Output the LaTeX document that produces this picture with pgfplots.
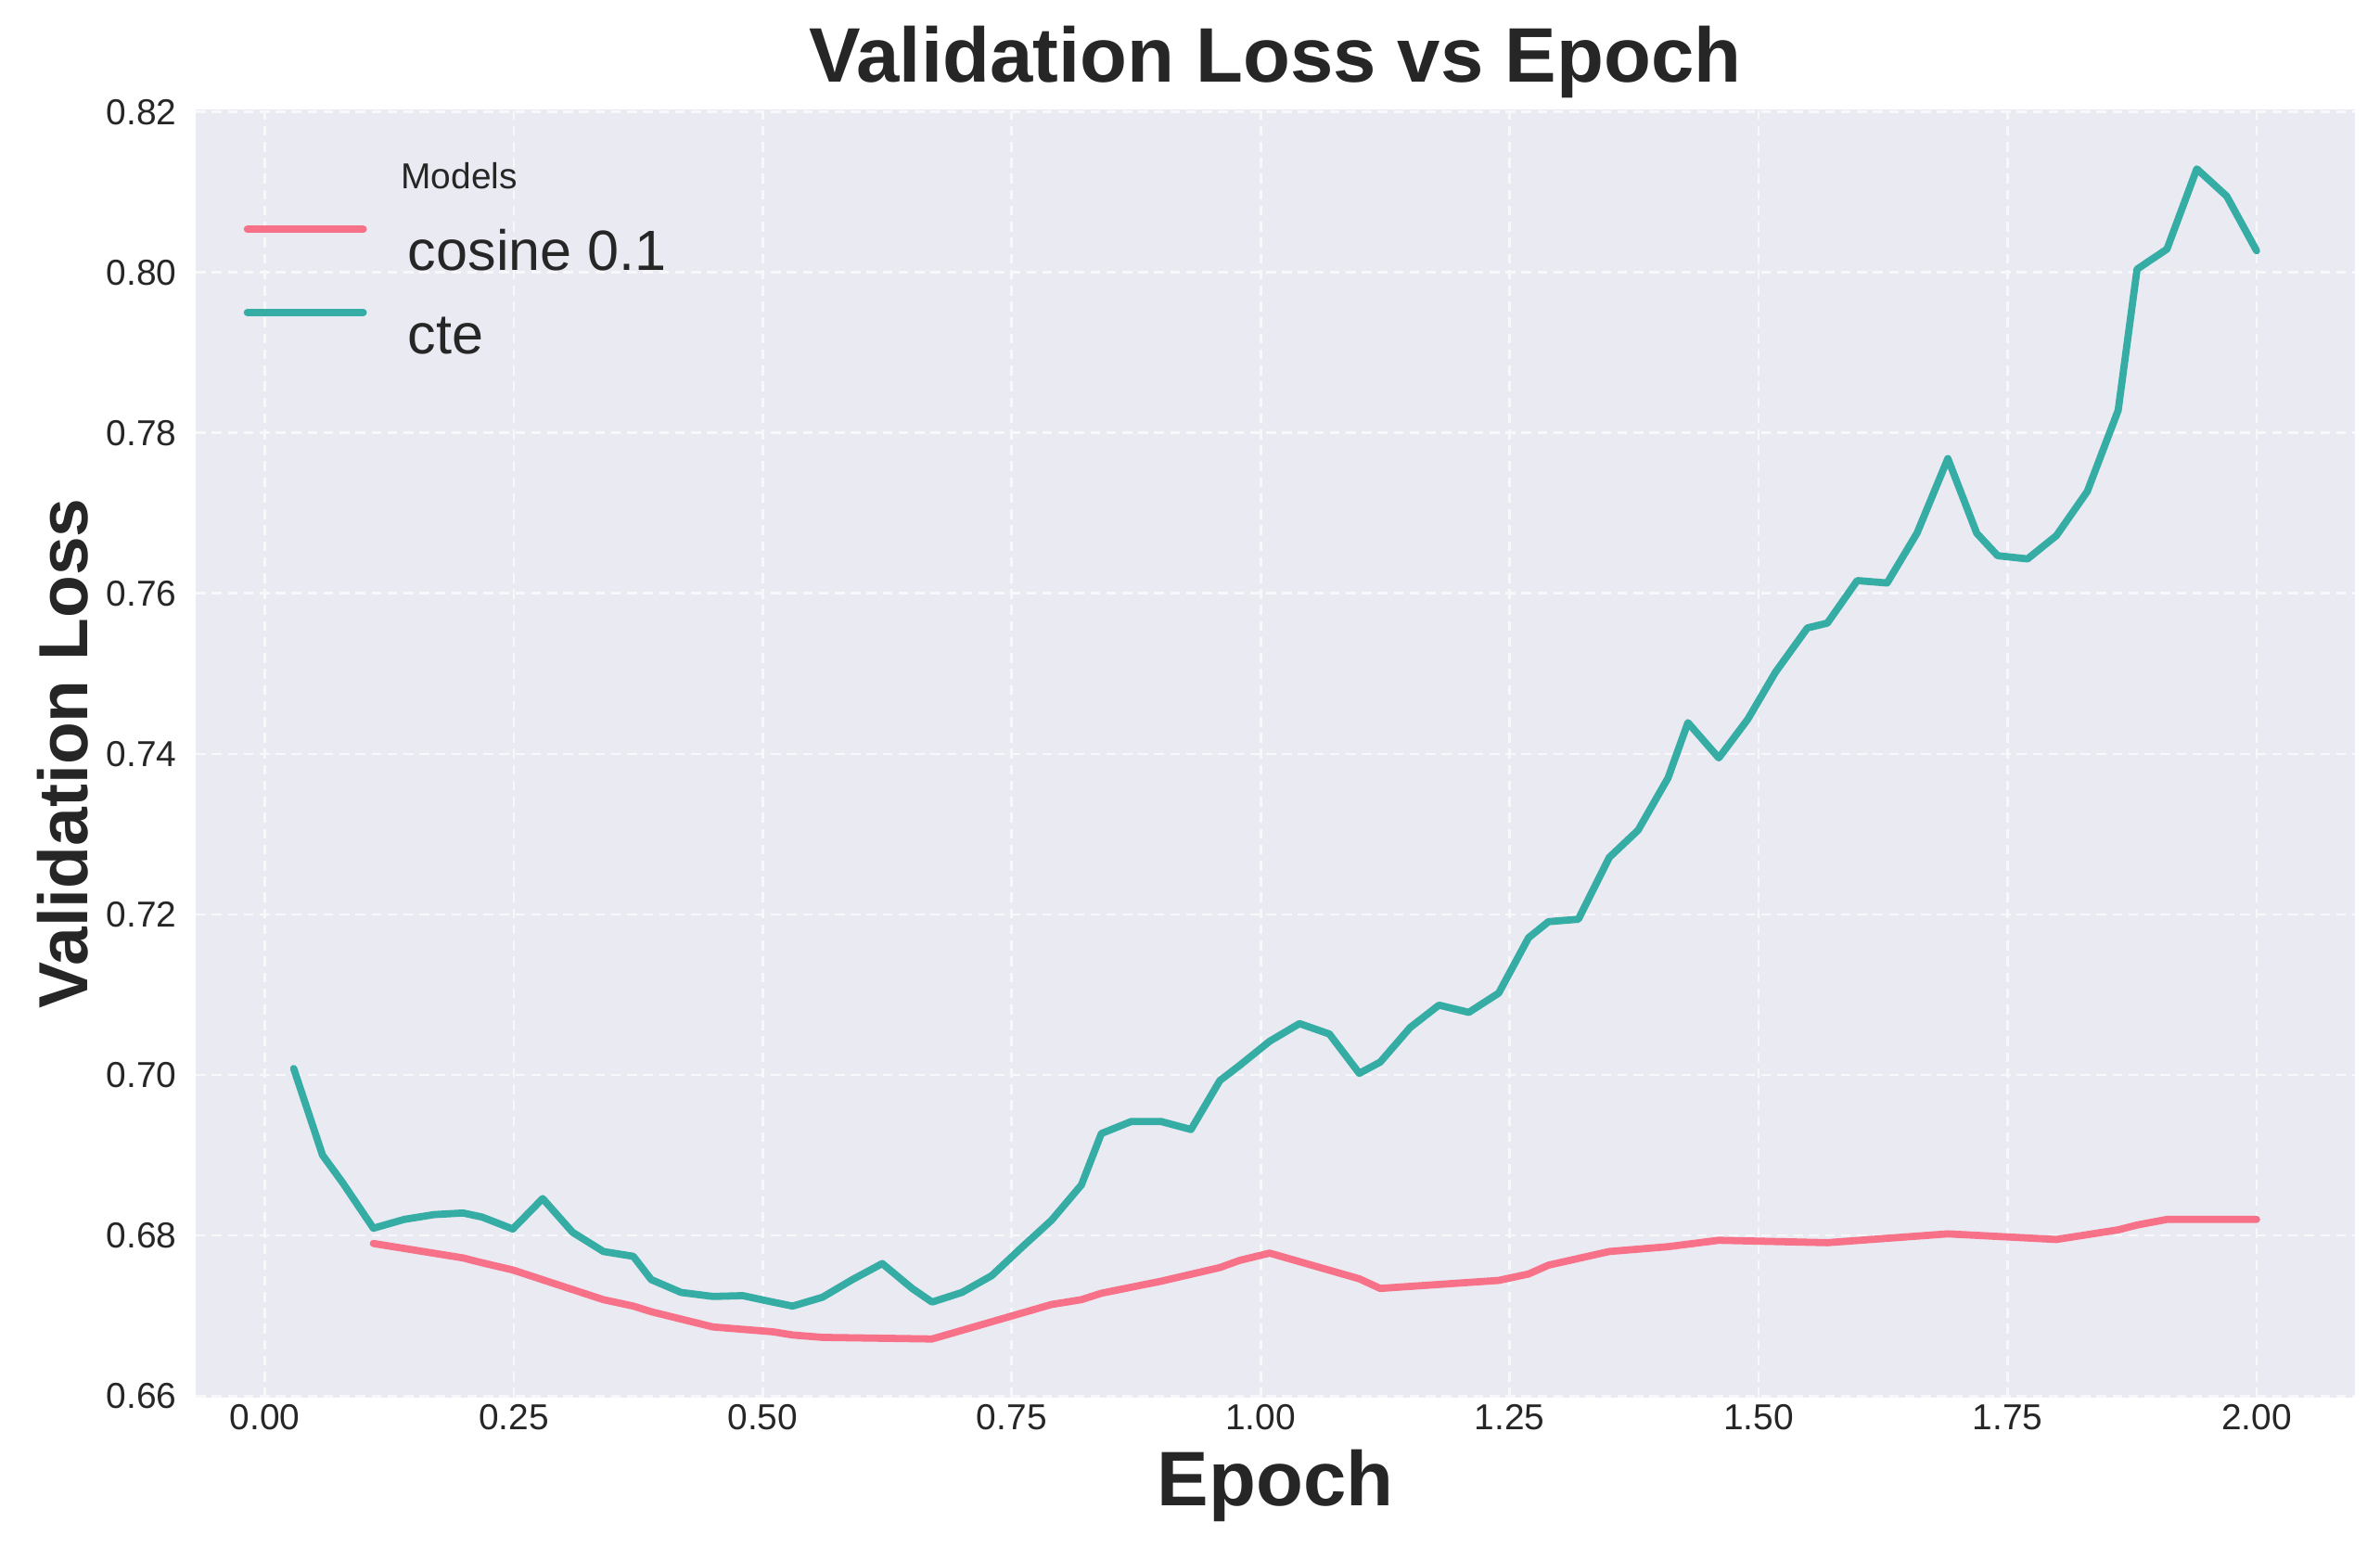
\documentclass[border=0pt]{standalone}
\usepackage{fontspec}
\setmainfont{Liberation Sans}
\usepackage{pgfplots}
\pgfplotsset{compat=1.18}

\definecolor{bg}{HTML}{EAEAF2}
\definecolor{txt}{HTML}{262626}
\definecolor{pinkc}{HTML}{F77189}
\definecolor{tealc}{HTML}{36ADA4}
\definecolor{gridc}{HTML}{F8F8FB}

\begin{document}
\begin{tikzpicture}
\begin{axis}[
  name=ax,
  scale only axis, width=838pt, height=500pt,
  xmin=-0.0693, xmax=2.0986, ymin=0.6598, ymax=0.8203,
  xtick={0,0.25,0.5,0.75,1,1.25,1.5,1.75,2},
  ytick={0.66,0.68,0.70,0.72,0.74,0.76,0.78,0.80,0.82},
  /pgf/number format/assume math mode=true,
  xticklabel style={/pgf/number format/.cd, fixed, fixed zerofill, precision=2, /tikz/.cd,
    anchor=north, inner sep=0pt, yshift=-2.5pt},
  yticklabel style={/pgf/number format/.cd, fixed, fixed zerofill, precision=2, /tikz/.cd,
    anchor=east, inner sep=0pt, xshift=-7.2pt},
  tick label style={font=\fontsize{14}{17}\selectfont, text=txt},
  major tick length=0pt, tick style={draw=none},
  axis line style={draw=none},
  axis background/.style={fill=bg},
  grid=major,
  major grid style={gridc, line width=1pt, dash pattern=on 3.8pt off 2.4pt},
  title={Validation Loss vs Epoch},
  title style={font=\fontsize{30}{36}\selectfont\bfseries, text=txt,
    at={(axis description cs:0.5,1.0092)}, anchor=base},
  xlabel={Epoch},
  xlabel style={font=\fontsize{30}{36}\selectfont\bfseries, text=txt,
    at={(axis description cs:0.5,-0.084)}, anchor=base},
  ylabel={Validation Loss},
  ylabel style={font=\fontsize{27}{32}\selectfont\bfseries, text=txt,
    at={(axis description cs:-0.050,0.5)}, anchor=base},
  every axis plot/.append style={line width=2.8pt, line join=round, line cap=round},
  legend image code/.code={\draw[#1, line width=2.8pt, line cap=round] (0pt,7.9pt) -- (45pt,7.9pt);},
  legend cell align=left,
  legend style={at={(axis description cs:0.0222,0.9098)}, anchor=north west,
    draw=none, fill=none, inner sep=0pt, outer sep=0pt,
    font=\fontsize{22}{26}\selectfont, text=txt, row sep=15pt,
    nodes={inner sep=0pt, text height=16pt, text depth=0pt},
    /tikz/every odd column/.append style={column sep=16pt}},
]

\addplot[pinkc] coordinates {
(0.109,0.6790) (0.199,0.6772) (0.218,0.6766) (0.249,0.6757) (0.340,0.6720)
(0.370,0.6712) (0.388,0.6705) (0.450,0.6686) (0.510,0.6680) (0.530,0.6676)
(0.560,0.6673) (0.670,0.6671) (0.790,0.6714) (0.820,0.6720) (0.840,0.6728)
(0.900,0.6743) (0.959,0.6760) (0.979,0.6769) (1.009,0.6778) (1.099,0.6746)
(1.120,0.6734) (1.239,0.6744) (1.269,0.6752) (1.289,0.6763) (1.350,0.6780)
(1.409,0.6786) (1.460,0.6794) (1.569,0.6791) (1.690,0.6802) (1.799,0.6795)
(1.861,0.6807) (1.880,0.6813) (1.910,0.6820) (2.000,0.6820)
};
\addlegendentry{cosine 0.1}

\addplot[tealc] coordinates {
(0.029,0.7008) (0.058,0.6900) (0.078,0.6866) (0.109,0.6809) (0.140,0.6820)
(0.170,0.6826) (0.199,0.6828) (0.218,0.6823) (0.249,0.6808) (0.279,0.6846)
(0.309,0.6804) (0.340,0.6780) (0.370,0.6774) (0.388,0.6745) (0.418,0.6729)
(0.450,0.6724) (0.480,0.6725) (0.510,0.6717) (0.530,0.6712) (0.560,0.6723)
(0.590,0.6745) (0.620,0.6765) (0.650,0.6734) (0.670,0.6717) (0.700,0.6729)
(0.730,0.6750) (0.760,0.6785) (0.790,0.6819) (0.820,0.6863) (0.840,0.6927)
(0.870,0.6942) (0.900,0.6942) (0.930,0.6932) (0.959,0.6993) (0.979,0.7012)
(1.009,0.7042) (1.039,0.7064) (1.069,0.7051) (1.099,0.7002) (1.120,0.7016)
(1.150,0.7059) (1.179,0.7087) (1.209,0.7078) (1.239,0.7102) (1.269,0.7171)
(1.289,0.7191) (1.319,0.7194) (1.350,0.7271) (1.379,0.7305) (1.409,0.7370)
(1.429,0.7439) (1.460,0.7395) (1.489,0.7443) (1.517,0.7502) (1.549,0.7557)
(1.569,0.7563) (1.599,0.7616) (1.629,0.7613) (1.659,0.7675) (1.690,0.7768)
(1.719,0.7675) (1.740,0.7647) (1.770,0.7643) (1.799,0.7672) (1.830,0.7727)
(1.861,0.7828) (1.880,0.8004) (1.910,0.8029) (1.940,0.8129) (1.970,0.8095)
(2.000,0.8027)
};
\addlegendentry{cte}

\node[font=\fontsize{14}{17}\selectfont, text=txt] at (axis description cs:0.122,0.9488) {Models};
\end{axis}
\pgfresetboundingbox
\path[use as bounding box] ([shift={(-76pt,-58pt)}]ax.south west) rectangle ([shift={(9.8pt,42.5pt)}]ax.north east);
\end{tikzpicture}
\end{document}
